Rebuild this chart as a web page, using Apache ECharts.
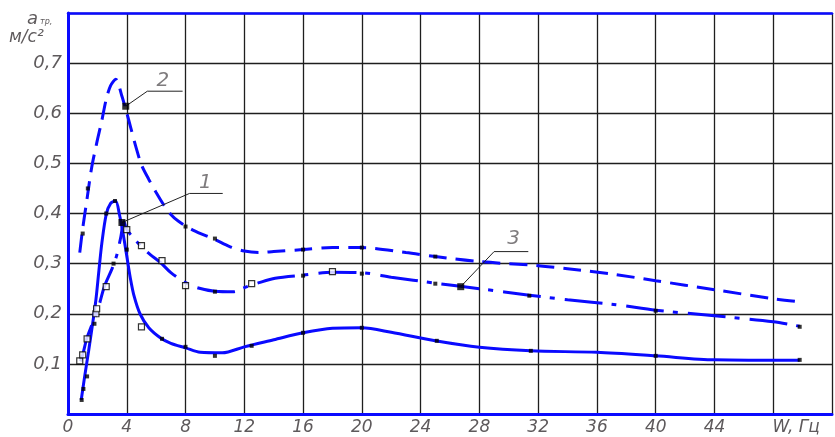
<!DOCTYPE html>
<html><head><meta charset="utf-8">
<script src="https://cdn.jsdelivr.net/npm/echarts@6/dist/echarts.min.js"></script>
<style>html,body{margin:0;padding:0;background:#fff}#c{width:835px;height:437px}</style>
</head><body><div id="c"></div>
<script>
// ---- data ----
const xTickLabels = ['0','4','8','12','16','20','24','28','32','36','40','44','W, Гц'];
const yTickLabels = ['','0,1','0,2','0,3','0,4','0,5','0,6','0,7',''];

// curve 1 (solid)
const c1x = [0.9,1.15,1.4,1.65,1.9,2.1,2.3,2.6,2.9,3.24,3.5,3.75,4.0,4.25,4.5,4.9,5.5,6.33,7.0,8.0,9.0,10.5,12,14,16,18,20,22,25,28,31.5,36,40,44,49.8];
const c1y = [0.028,0.078,0.125,0.175,0.228,0.285,0.34,0.398,0.42,0.425,0.398,0.36,0.315,0.27,0.235,0.2,0.172,0.151,0.141,0.132,0.123,0.122,0.134,0.148,0.162,0.171,0.172,0.163,0.146,0.133,0.126,0.123,0.116,0.108,0.107];
// curve 2 (dashed)
const c2x = [0.8,1.0,1.3,1.6,1.95,2.3,2.6,2.9,3.25,3.65,3.95,4.3,4.65,5.0,5.5,6.0,6.5,7.0,7.5,8.5,10,11,12,13,14,16,18,20,23,25,28,32,34,37.3,40,44,48,49.8];
const c2y = [0.322,0.37,0.43,0.49,0.54,0.585,0.628,0.655,0.668,0.636,0.606,0.568,0.53,0.497,0.468,0.442,0.418,0.398,0.385,0.367,0.348,0.334,0.325,0.322,0.324,0.328,0.332,0.332,0.322,0.314,0.304,0.296,0.29,0.278,0.266,0.248,0.23,0.224];
// curve 3 (dash-dot)
const c3x = [0.85,1.0,1.27,1.6,2.0,2.47,3.0,3.3,3.6,3.8,4.0,4.5,5.0,5.6,6.3,7.0,8.0,8.8,10,11.3,12,13,14.1,16,18,20,22,25,26.7,28,31.4,34,37.3,40,44,48,49.8];
const c3y = [0.105,0.118,0.15,0.176,0.205,0.254,0.29,0.315,0.354,0.384,0.368,0.35,0.334,0.318,0.302,0.282,0.262,0.252,0.245,0.244,0.252,0.262,0.271,0.277,0.283,0.282,0.273,0.261,0.255,0.25,0.237,0.228,0.218,0.207,0.196,0.184,0.175];

// measured points
const filledX = [0.93,1.05,1.3,1.8,2.6,3.2,4.0,6.4,8,10,12.5,16,20,25.1,31.5,40,49.8, 1.0,1.35,8,10,16,20,25, 3.1,10,16,20,25,31.4,40,49.8];
const filledY = [0.028,0.05,0.075,0.18,0.4,0.425,0.328,0.15,0.134,0.116,0.136,0.162,0.172,0.146,0.126,0.116,0.108, 0.36,0.45,0.374,0.35,0.328,0.332,0.314, 0.3,0.244,0.276,0.28,0.26,0.236,0.206,0.174];
const hollowX = [0.8,1.0,1.3,1.9,1.95,2.6,4.0,5.0,6.4,8.0,5.0,12.5,18];
const hollowY = [0.106,0.118,0.15,0.2,0.21,0.254,0.368,0.336,0.306,0.256,0.174,0.26,0.284];

// annotations (leaders & labels)
const ann1X = [3.67,8.27,10.53], ann1Y = [0.382,0.44,0.44];
const ann2X = [3.93,5.4,7.8],   ann2Y = [0.614,0.644,0.644];
const ann3X = [26.73,29.0,31.33], ann3Y = [0.254,0.324,0.324];
const annText = ['1','2','3'];
const annTextX = [9.35,6.45,30.33];
const annTextY = [0.462,0.664,0.35];

// ---- chart ----
const zip = (a,b)=>a.map((v,i)=>[v,b[i]]);
const BLUE = '#0a0aff';
const TXT = '#5e5a5c';
const FONT = "'DejaVu Sans', sans-serif";

const chart = echarts.init(document.getElementById('c'), null, {renderer:'canvas'});
const leader = (xs,ys)=>({type:'line', data:zip(xs,ys), showSymbol:false, symbol:'none', silent:true, z:4,
  lineStyle:{color:'#222', width:1}, animation:false});

chart.setOption({
  animation:false,
  backgroundColor:'#fff',
  grid:{left:68, top:13, width:780, height:401},
  xAxis:[{
    type:'value', min:0, max:52, interval:4,
    axisLine:{show:true, lineStyle:{color:BLUE, width:3}},
    axisTick:{show:false},
    splitLine:{show:true, lineStyle:{color:'#1e1e1e', width:1.3}},
    axisLabel:{margin:5, color:TXT, fontFamily:FONT, fontStyle:'italic', fontSize:17,
      formatter:(v)=>{const i=Math.round(v/4); if(i===12) return '{w|'+xTickLabels[i]+'}'; return xTickLabels[i]||'';},
      rich:{w:{color:TXT, fontFamily:FONT, fontStyle:'italic', fontSize:17, padding:[0,0,0,46]}}}
  },{
    type:'value', position:'top', min:0, max:52, interval:4,
    axisLine:{show:true, lineStyle:{color:BLUE, width:2.5}},
    axisTick:{show:false}, axisLabel:{show:false}, splitLine:{show:false}
  }],
  yAxis:{
    type:'value', min:0, max:0.8, interval:0.1,
    axisLine:{show:true, lineStyle:{color:BLUE, width:3}},
    axisTick:{show:false},
    splitLine:{show:true, lineStyle:{color:'#1e1e1e', width:1.3}},
    axisLabel:{margin:6, color:TXT, fontFamily:FONT, fontStyle:'italic', fontSize:18,
      formatter:(v)=>yTickLabels[Math.round(v*10)]||''}
  },
  graphic:[
    {type:'text', left:27, top:10, style:{text:'{a|a}{s|тр,}', rich:{
      a:{fontFamily:FONT, fontStyle:'italic', fontSize:18, fill:TXT},
      s:{fontFamily:FONT, fontStyle:'italic', fontSize:8, fill:TXT, padding:[6,0,0,2]}}}},
    {type:'text', left:9, top:29, style:{text:'м/с²', fontFamily:FONT, fontStyle:'italic', fontSize:17, fill:TXT}}
  ],
  series:[
    {type:'line', data:zip(c1x,c1y), showSymbol:false, smooth:0.3, z:2,
      lineStyle:{color:BLUE, width:3}},
    {type:'line', data:zip(c2x,c2y), showSymbol:false, smooth:0.3, z:2,
      lineStyle:{color:BLUE, width:3, type:[18,9]}},
    {type:'line', data:zip(c3x,c3y), showSymbol:false, smooth:0.3, z:2,
      lineStyle:{color:BLUE, width:3, type:[38,9,5,10]}},
    {type:'scatter', data:zip(filledX,filledY), symbol:'rect', symbolSize:4, z:3,
      itemStyle:{color:'#000'}},
    {type:'scatter', data:zip(hollowX,hollowY), symbol:'rect', symbolSize:6, z:3,
      itemStyle:{color:'#fff', borderColor:'#000', borderWidth:1.2}},
    leader(ann1X,ann1Y), leader(ann2X,ann2Y), leader(ann3X,ann3Y),
    {type:'scatter', data:[[ann1X[0],ann1Y[0]],[ann2X[0],ann2Y[0]],[ann3X[0],ann3Y[0]]], symbol:'rect', symbolSize:7, z:5,
      itemStyle:{color:'#000'}},
    {type:'scatter', data:annText.map((t,i)=>({name:t, value:[annTextX[i],annTextY[i]]})), symbolSize:0, z:5,
      label:{show:true, position:'inside', formatter:(p)=>p.name, color:TXT, fontFamily:FONT, fontStyle:'italic', fontSize:20}}
  ]
});
</script>
</body></html>
